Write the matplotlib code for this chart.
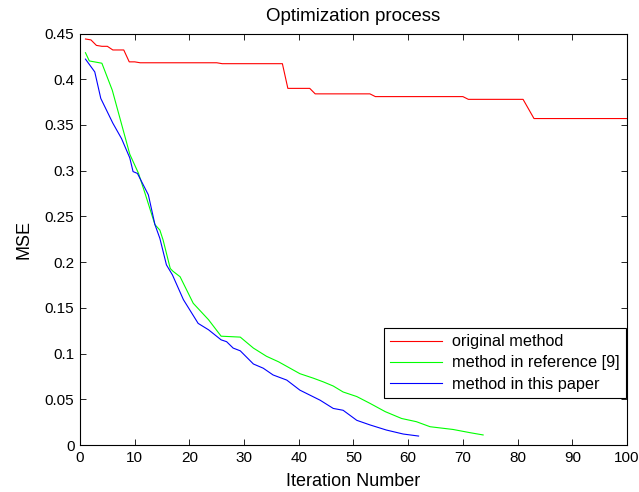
import numpy as np
import matplotlib
matplotlib.use("Agg")
import matplotlib.pyplot as plt

plt.rcParams['font.family'] = ['Liberation Sans', 'DejaVu Sans']

# original method (step-like curve)
x_orig = [1, 2, 3, 4, 5, 6, 7, 8, 9, 10, 11, 25, 26, 37, 38, 42, 43, 53, 54, 70, 71, 81, 83, 100]
y_orig = [0.444, 0.443, 0.437, 0.436, 0.436, 0.432, 0.432, 0.432, 0.419, 0.419, 0.418, 0.418,
          0.417, 0.417, 0.390, 0.390, 0.384, 0.384, 0.381, 0.381, 0.378, 0.378, 0.357, 0.357]

# method in reference [9]
x_ref = [1, 1.7, 4, 5.9, 9.1, 10.7, 11.9, 13.7, 14.6, 15.2, 16.5, 17, 18.3, 20.7, 23.5, 25.8,
         29.3, 31.7, 34.1, 36.3, 38.4, 40.2, 42.7, 44.5, 46.3, 48.1, 50.6, 53, 55.8, 58.8,
         61.5, 64, 68.2, 71.3, 73.7]
y_ref = [0.429, 0.420, 0.4175, 0.388, 0.318, 0.297, 0.275, 0.241, 0.235, 0.224, 0.193, 0.190,
         0.184, 0.155, 0.137, 0.119, 0.118, 0.106, 0.097, 0.091, 0.084, 0.078, 0.073, 0.069,
         0.0645, 0.058, 0.053, 0.0456, 0.0365, 0.029, 0.0255, 0.020, 0.017, 0.0135, 0.011]

# method in this paper
x_new = [1, 2.7, 3.8, 6, 7.6, 9.1, 9.7, 10.5, 12.5, 13.7, 14.6, 15.8, 16.9, 18.9, 21.6, 23.5,
         25.8, 26.8, 28, 29.3, 31.7, 33.5, 35.3, 37.8, 40.2, 43.9, 46.3, 48.1, 50.6, 53, 56,
         59.1, 61.9]
y_new = [0.422, 0.408, 0.379, 0.352, 0.335, 0.314, 0.299, 0.297, 0.2735, 0.241, 0.226, 0.197,
         0.186, 0.159, 0.133, 0.126, 0.115, 0.113, 0.106, 0.103, 0.0886, 0.084, 0.0766, 0.071,
         0.060, 0.049, 0.040, 0.038, 0.027, 0.022, 0.0164, 0.012, 0.0098]

fig = plt.figure(figsize=(6.39, 4.92), dpi=100)
ax = fig.add_axes([0.1252, 0.0955, 0.856, 0.8364])

ax.plot(x_orig, y_orig, color='#ff0000', lw=0.8, label='original method')
ax.plot(x_ref, y_ref, color='#00ff00', lw=0.8, label='method in reference [9]')
ax.plot(x_new, y_new, color='#0000ff', lw=0.8, label='method in this paper')

ax.set_xlim(0, 100)
ax.set_ylim(0, 0.45)
ax.set_xticks(np.arange(0, 101, 10))
ax.set_yticks(np.arange(0, 0.451, 0.05))
ax.set_yticklabels(['0', '0.05', '0.1', '0.15', '0.2', '0.25', '0.3', '0.35', '0.4', '0.45'])
ax.tick_params(direction='in', top=True, right=True, labelsize=11, length=4, width=0.6, pad=4)
for s in ax.spines.values():
    s.set_linewidth(0.8)

ax.set_title('Optimization process', fontsize=13.5, pad=9)
ax.set_xlabel('Iteration Number', fontsize=13, labelpad=6)
ax.set_ylabel('MSE', fontsize=13, labelpad=9)

leg = ax.legend(loc='lower right', bbox_to_anchor=(0.998, 0.114), borderaxespad=0,
                fontsize=11.7, fancybox=False, edgecolor='black', framealpha=1,
                handlelength=3.2, borderpad=0.4, labelspacing=0.38, handletextpad=0.6)
leg.get_frame().set_linewidth(0.8)

fig.savefig('out.png', dpi=100)
